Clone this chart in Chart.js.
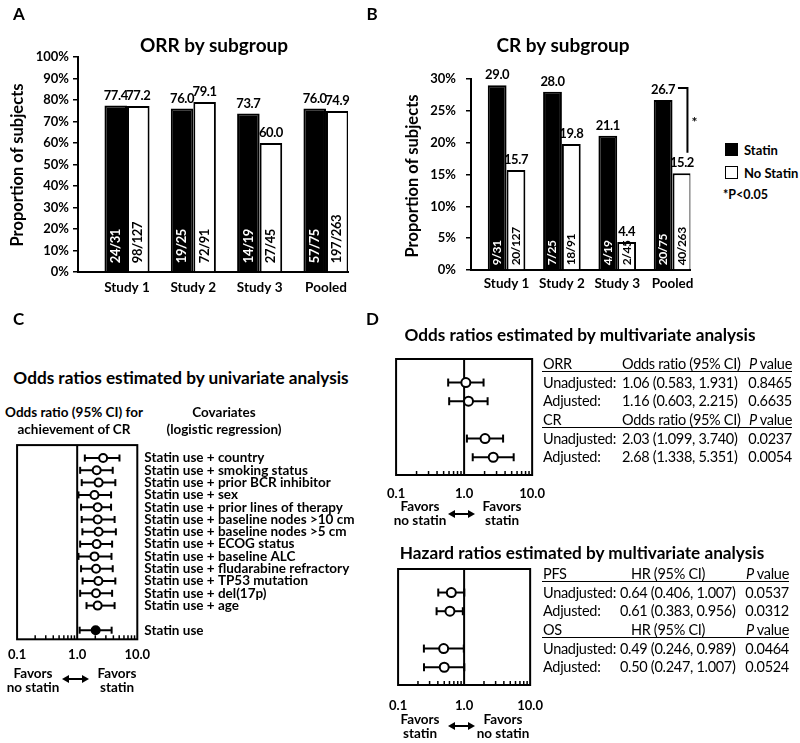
<!DOCTYPE html>
<html lang="en">
<head>
<meta charset="UTF-8">
<title>Statin use and response</title>
<script src="https://cdn.jsdelivr.net/npm/chart.js"></script>
<style>
    body { margin: 0; background: #fff; }
    #fig { position: relative; width: 800px; height: 743px; overflow: hidden; background: #fff; color: #000;
           font-family: Lato, 'Open Sans', sans-serif; }
    canvas { position: absolute; }
    .t { position: absolute; white-space: nowrap; line-height: 1; font-weight: bold; }
    .c { transform: translate(-50%, -50%); }
    .l { transform: translate(0, -50%); }
    .r { transform: translate(-100%, -50%); }
    .rot { transform: translate(-50%, -50%) rotate(-90deg); }
    .pl { font-size: 17px; }
    .ttl { font-size: 19px; }
    .sub { font-size: 17.2px; }
    .ax { font-size: 16.5px; }
    .hd { font-size: 13.5px; }
    .fv { font-size: 13.5px; text-align: center; line-height: 14px; }
    .lg { font-size: 13px; }
    .tb { font-weight: normal; font-size: 14.5px; letter-spacing: -0.3px; }
    .sw { position: absolute; width: 11px; height: 11px; border: 1.5px solid #000; }
    .rule { position: absolute; height: 0; border-top: 1.5px solid #000; }
</style>
</head>
<body>
<div id="fig">
    <canvas id="chartA" width="360" height="300" style="left:0;top:0"></canvas>
    <canvas id="chartB" width="320" height="300" style="left:380px;top:0"></canvas>
    <canvas id="chartC" width="380" height="240" style="left:0;top:430px"></canvas>
    <canvas id="chartD1" width="180" height="160" style="left:376px;top:349px"></canvas>
    <canvas id="chartD2" width="180" height="160" style="left:376px;top:559px"></canvas>

    <!-- A -->
    <div class="t c pl" style="left:19px;top:12.5px">A</div>
    <div class="t c ttl" style="left:214px;top:44px">ORR by subgroup</div>
    <div class="t rot ax" style="left:17px;top:165px">Proportion of subjects</div>

    <!-- B -->
    <div class="t c pl" style="left:372px;top:12.5px">B</div>
    <div class="t c ttl" style="left:563px;top:44px">CR by subgroup</div>
    <div class="t rot ax" style="left:412px;top:176px">Proportion of subjects</div>
    <div class="sw" style="left:725px;top:143px;background:#000"></div>
    <div class="t l lg" style="left:744px;top:150px">Statin</div>
    <div class="sw" style="left:725px;top:166px;background:#fff"></div>
    <div class="t l lg" style="left:744px;top:173px">No Statin</div>
    <div class="t l lg" style="left:723px;top:195px;font-size:12.5px">*P&lt;0.05</div>

    <!-- C -->
    <div class="t c pl" style="left:18.5px;top:317.5px">C</div>
    <div class="t c sub" style="left:181px;top:378px">Odds ratios estimated by univariate analysis</div>
    <div class="t c hd" style="left:74px;top:413px">Odds ratio (95% CI) for</div>
    <div class="t c hd" style="left:74px;top:430px">achievement of CR</div>
    <div class="t c hd" style="left:224px;top:413px">Covariates</div>
    <div class="t c hd" style="left:224px;top:430px">(logistic regression)</div>
    <div class="t c fv" style="left:33px;top:680px">Favors<br>no statin</div>
    <div class="t c fv" style="left:117px;top:680px">Favors<br>statin</div>

    <!-- D -->
    <div class="t c pl" style="left:372.5px;top:317.5px">D</div>
    <div class="t c sub" style="left:580px;top:335px">Odds ratios estimated by multivariate analysis</div>
    <div class="t c sub" style="left:582px;top:553px">Hazard ratios estimated by multivariate analysis</div>
    <div class="t c fv" style="left:420px;top:513px">Favors<br>no statin</div>
    <div class="t c fv" style="left:502px;top:513px">Favors<br>statin</div>
    <div class="t c fv" style="left:420px;top:726px">Favors<br>statin</div>
    <div class="t c fv" style="left:503px;top:726px">Favors<br>no statin</div>
</div>

<script>
    // Panel A / B data
    const studies = ['Study 1', 'Study 2', 'Study 3', 'Pooled'];
    const orrStatin = [77.4, 76.0, 73.7, 76.0];
    const orrNoStatin = [77.2, 79.1, 60.0, 74.9];
    const orrStatinN = ['24/31', '19/25', '14/19', '57/75'];
    const orrNoStatinN = ['98/127', '72/91', '27/45', '197/263'];
    const crStatin = [29.0, 28.0, 21.1, 26.7];
    const crNoStatin = [15.7, 19.8, 4.4, 15.2];
    const crStatinN = ['9/31', '7/25', '4/19', '20/75'];
    const crNoStatinN = ['20/127', '18/91', '2/45', '40/263'];
    const crBracket = [28.6, 18.4]; // significance bracket, pooled group (% values)

    // Panel C data (univariate odds ratios)
    const covariates = [
        'Statin use + country', 'Statin use + smoking status', 'Statin use + prior BCR inhibitor',
        'Statin use + sex', 'Statin use + prior lines of therapy', 'Statin use + baseline nodes >10 cm',
        'Statin use + baseline nodes >5 cm', 'Statin use + ECOG status', 'Statin use + baseline ALC',
        'Statin use + fludarabine refractory', 'Statin use + TP53 mutation', 'Statin use + del(17p)',
        'Statin use + age', 'Statin use'
    ];
    const uniRow = [0, 1, 2, 3, 4, 5, 6, 7, 8, 9, 10, 11, 12, 14];
    const uniOR = [2.70, 2.11, 2.27, 1.94, 2.19, 2.19, 2.27, 2.11, 1.94, 2.06, 2.25, 2.06, 2.19, 2.03];
    const uniLo = [1.34, 1.12, 1.19, 1.05, 1.16, 1.19, 1.22, 1.12, 1.05, 1.16, 1.23, 1.12, 1.43, 1.099];
    const uniHi = [5.05, 3.90, 4.31, 3.66, 3.66, 4.19, 4.40, 3.81, 3.72, 3.90, 4.31, 3.81, 4.19, 3.740];

    // Panel D data
    const rowLabels = ['Unadjusted:', 'Adjusted:'];
    const multiHeaderRow = [0, 3];
    const multiRow = [1, 2, 4, 5];
    const orGroups = ['ORR', 'CR'];
    const orEst = [1.06, 1.16, 2.03, 2.68];
    const orLo = [0.583, 0.603, 1.099, 1.338];
    const orHi = [1.931, 2.215, 3.740, 5.351];
    const orP = [0.8465, 0.6635, 0.0237, 0.0054];
    const hrGroups = ['PFS', 'OS'];
    const hrEst = [0.64, 0.61, 0.49, 0.50];
    const hrLo = [0.406, 0.383, 0.246, 0.247];
    const hrHi = [1.007, 0.956, 0.989, 1.007];
    const hrP = [0.0537, 0.0312, 0.0464, 0.0524];
    const logLabels = [0.1, 1, 10];

    Chart.defaults.font.family = "Lato, 'Open Sans', sans-serif";
    Chart.defaults.color = '#000';

    const bold = size => ({ size: size, weight: 'bold' });

    // value above each bar, n/N rotated inside at the bottom
    const barLabels = {
        id: 'barLabels',
        afterDatasetsDraw(chart, args, opts) {
            const ctx = chart.ctx;
            chart.data.datasets.forEach((ds, di) => {
                chart.getDatasetMeta(di).data.forEach((bar, i) => {
                    ctx.save();
                    ctx.letterSpacing = '-0.4px';
                    ctx.fillStyle = '#000';
                    ctx.font = "bold 13px Lato, 'Open Sans', sans-serif";
                    ctx.textAlign = 'center';
                    ctx.fillText(ds.data[i].y.toFixed(1), bar.x, bar.y - 6);
                    ctx.translate(bar.x, bar.base - opts.inset);
                    ctx.rotate(-Math.PI / 2);
                    ctx.textAlign = 'left';
                    ctx.textBaseline = 'middle';
                    ctx.fillStyle = ds.countColor;
                    ctx.font = 'bold ' + opts.size + "px Lato, 'Open Sans', sans-serif";
                    ctx.fillText(ds.counts[i], 0, 0);
                    ctx.restore();
                });
            });
        }
    };

    const sigBracket = {
        id: 'sigBracket',
        afterDatasetsDraw(chart) {
            const ctx = chart.ctx;
            const y = chart.scales.y;
            const bar = chart.getDatasetMeta(1).data[3];
            const x0 = bar.x - 4, x1 = bar.x + 5.5;
            const y0 = y.getPixelForValue(crBracket[0]), y1 = y.getPixelForValue(crBracket[1]);
            ctx.save();
            ctx.strokeStyle = '#000';
            ctx.lineWidth = 2;
            ctx.beginPath();
            ctx.moveTo(x0, y0);
            ctx.lineTo(x1, y0);
            ctx.lineTo(x1, y1);
            ctx.stroke();
            ctx.font = "bold 14px Lato, 'Open Sans', sans-serif";
            ctx.textAlign = 'center';
            ctx.textBaseline = 'middle';
            ctx.fillText('*', x1 + 7, (y0 + y1) / 2 + 2);
            ctx.restore();
        }
    };

    function barChart(id, statin, noStatin, statinN, noStatinN, yMax, step, box, extra) {
        const ds = (vals, counts, fill, countColor, label) => ({
            label: label,
            data: vals.map((v, i) => ({ x: i, y: v })),
            backgroundColor: fill,
            borderColor: '#000',
            borderWidth: 2,
            categoryPercentage: 0.68,
            barPercentage: 1,
            counts: counts,
            countColor: countColor
        });
        return new Chart(document.getElementById(id), {
            type: 'bar',
            data: {
                datasets: [
                    ds(statin, statinN, '#000', '#fff', 'Statin'),
                    ds(noStatin, noStatinN, '#fff', '#000', 'No Statin')
                ]
            },
            options: {
                responsive: false,
                animation: false,
                layout: { padding: box.pad },
                plugins: {
                    legend: { display: false }, tooltip: { enabled: false },
                    barLabels: { inset: box.inset, size: box.countSize }
                },
                scales: {
                    x: {
                        type: 'linear', min: box.xMin, max: box.xMax, offset: false,
                        afterBuildTicks: s => { s.ticks = studies.map((_, i) => ({ value: i })); },
                        afterFit: s => { s.height = box.xH; },
                        grid: { drawOnChartArea: false, drawTicks: false },
                        border: { color: '#000', width: 2 },
                        ticks: { callback: v => studies[v], font: bold(13.5), padding: box.xPad, maxRotation: 0, autoSkip: false }
                    },
                    y: {
                        min: 0, max: yMax,
                        afterFit: s => { s.width = box.yW; },
                        grid: { drawOnChartArea: false, drawTicks: true, tickLength: 5, color: '#000', lineWidth: 1.5 },
                        border: { color: '#000', width: 2 },
                        ticks: { stepSize: step, callback: v => v + '%', font: bold(13), padding: box.yPad }
                    }
                }
            },
            plugins: [barLabels].concat(extra || [])
        });
    }

    barChart('chartA', orrStatin, orrNoStatin, orrStatinN, orrNoStatinN, 100, 10,
        { pad: { left: 0, right: 12, top: 57, bottom: 4 }, xMin: -0.739, xMax: 3.332, xH: 24, xPad: 8, yW: 78, yPad: 4,
          inset: 8, countSize: 13 });
    barChart('chartB', crStatin, crNoStatin, crStatinN, crNoStatinN, 30, 5,
        { pad: { left: 0, right: 7, top: 79, bottom: 6 }, xMin: -0.643, xMax: 3.32, xH: 24, xPad: 6, yW: 91, yPad: 10,
          inset: 4, countSize: 12 },
        [sigBracket]);

    // box, reference line at 1, minor ticks, CI whiskers
    const isLabelled = v => logLabels.some(t => Math.abs(t - v) < 1e-9);
    const forestFrame = {
        id: 'forestFrame',
        beforeDatasetsDraw(chart) {
            const { ctx, chartArea: a, scales: { x, y } } = chart;
            const ds = chart.data.datasets[0];
            const line = (x0, y0, x1, y1) => { ctx.beginPath(); ctx.moveTo(x0, y0); ctx.lineTo(x1, y1); ctx.stroke(); };
            ctx.save();
            ctx.strokeStyle = '#000';
            ctx.lineWidth = 2;
            ctx.strokeRect(a.left, a.top, a.width, a.height);
            const x1 = x.getPixelForValue(1);
            line(x1, a.top, x1, a.bottom);
            ctx.lineWidth = 1.5;
            x.ticks.forEach(t => {
                const sig = t.value / Math.pow(10, Math.floor(Math.log10(t.value) + 1e-9));
                if (isLabelled(t.value) || Math.abs(sig - Math.round(sig)) > 1e-6) return;
                const px = x.getPixelForValue(t.value);
                line(px, a.bottom, px, a.bottom - 4);
            });
            ctx.lineWidth = 2;
            ds.data.forEach((p, i) => {
                const py = y.getPixelForValue(p.y);
                const xl = x.getPixelForValue(ds.lo[i]), xh = x.getPixelForValue(ds.hi[i]);
                line(xl, py, xh, py);
                line(xl, py - ds.cap, xl, py + ds.cap);
                line(xh, py - ds.cap, xh, py + ds.cap);
            });
            ctx.restore();
        }
    };

    function forestChart(id, est, lo, hi, rows, opt) {
        return new Chart(document.getElementById(id), {
            type: 'scatter',
            data: {
                datasets: [{
                    data: est.map((v, i) => ({ x: v, y: rows[i] })),
                    lo: lo, hi: hi, cap: opt.cap,
                    pointRadius: opt.r,
                    pointBorderWidth: 2,
                    pointBorderColor: '#000',
                    pointBackgroundColor: opt.fill || '#fff'
                }]
            },
            options: {
                responsive: false,
                animation: false,
                layout: { padding: opt.pad },
                plugins: { legend: { display: false }, tooltip: { enabled: false } },
                scales: {
                    x: {
                        type: 'logarithmic', min: 0.1, max: 10,
                        afterFit: s => { s.height = opt.xH; },
                        grid: { display: false, drawTicks: false },
                        border: { display: false },
                        ticks: {
                            autoSkip: false, maxRotation: 0, padding: opt.xPad, font: bold(13),
                            callback: v => isLabelled(v) ? Number(v).toFixed(1) : ''
                        }
                    },
                    y: Object.assign({ reverse: true, min: opt.yMin, max: opt.yMax }, opt.yAxis || { display: false })
                }
            },
            plugins: [forestFrame]
        });
    }

    forestChart('chartC', uniOR, uniLo, uniHi, uniRow, {
        r: 4, cap: 3.5, xH: 22, xPad: 8, yMin: -1.05, yMax: 14.74,
        fill: covariates.map(c => c === 'Statin use' ? '#000' : '#fff'),
        pad: { left: 12, right: 12.7, top: 10, bottom: 8.7 },
        yAxis: {
            position: 'right',
            afterBuildTicks: s => { s.ticks = uniRow.map(v => ({ value: v })); },
            afterFit: s => { s.width = 230; },
            grid: { display: false, drawTicks: false },
            border: { display: false },
            ticks: { callback: (v, i) => covariates[i], font: bold(13.5), padding: 7, autoSkip: false }
        }
    });

    const chartD1 = forestChart('chartD1', orEst, orLo, orHi, multiRow, {
        r: 4.5, cap: 4, xH: 26, xPad: 11, yMin: -0.26, yMax: 5.95,
        pad: { left: 10, right: 22, top: 10, bottom: 8 }
    });
    const chartD2 = forestChart('chartD2', hrEst, hrLo, hrHi, multiRow, {
        r: 4.5, cap: 4, xH: 28, xPad: 13, yMin: -0.26, yMax: 5.95,
        pad: { left: 10, right: 22, top: 10, bottom: 6 }
    });

    // Tables next to the panel D plots, rows follow the plot's y scale
    const fig = document.getElementById('fig');
    function place(text, x, y, align, cls) {
        const d = document.createElement('div');
        d.className = 't ' + align + ' ' + (cls || '');
        d.style.left = x + 'px';
        d.style.top = y + 'px';
        d.innerHTML = text;
        fig.appendChild(d);
        return d;
    }
    function table(chart, top, groups, ciTitle, est, lo, hi, p, col) {
        const y = v => top + chart.scales.y.getPixelForValue(v);
        groups.forEach((g, gi) => {
            const hy = y(multiHeaderRow[gi]);
            place(g, col.label, hy, 'l', 'tb');
            place(ciTitle, col.ciHead, hy, col.ciAlign, 'tb');
            place('<i>P</i> value', col.p, hy, 'r', 'tb');
            const rule = document.createElement('div');
            rule.className = 'rule';
            rule.style.cssText = 'left:' + (col.label - 1) + 'px;top:' + (hy + 7.5) + 'px;width:' + (col.p - col.label + 1) + 'px';
            fig.appendChild(rule);
            rowLabels.forEach((r, ri) => {
                const k = gi * 2 + ri;
                const ry = y(multiRow[k]);
                place(r, col.label, ry, 'l', 'tb');
                place(est[k].toFixed(2) + ' (' + lo[k].toFixed(3) + ', ' + hi[k].toFixed(3) + ')', col.ci, ry, 'l', 'tb');
                place(p[k].toFixed(4), col.p, ry, 'r', 'tb');
            });
        });
    }
    table(chartD1, 349, orGroups, 'Odds ratio (95% CI)', orEst, orLo, orHi, orP,
        { label: 543, ci: 622, ciHead: 622, ciAlign: 'l', p: 792 });
    table(chartD2, 559, hrGroups, 'HR (95% CI)', hrEst, hrLo, hrHi, hrP,
        { label: 543, ci: 620, ciHead: 668, ciAlign: 'c', p: 789 });

    // double-headed arrows between the "Favors" captions
    function arrow(x0, x1, y) {
        const ns = 'http://www.w3.org/2000/svg';
        const svg = document.createElementNS(ns, 'svg');
        const w = x1 - x0;
        svg.setAttribute('width', w);
        svg.setAttribute('height', 10);
        svg.style.cssText = 'position:absolute;left:' + x0 + 'px;top:' + (y - 5) + 'px';
        svg.innerHTML = '<path d="M4 5 H' + (w - 4) + '" stroke="#000" stroke-width="2"/>' +
            '<path d="M0 5 L7 1 L7 9 Z M' + w + ' 5 L' + (w - 7) + ' 1 L' + (w - 7) + ' 9 Z" fill="#000"/>';
        fig.appendChild(svg);
    }
    arrow(62, 89, 679);
    arrow(448, 475, 514);
    arrow(448, 475, 726);
</script>
</body>
</html>
